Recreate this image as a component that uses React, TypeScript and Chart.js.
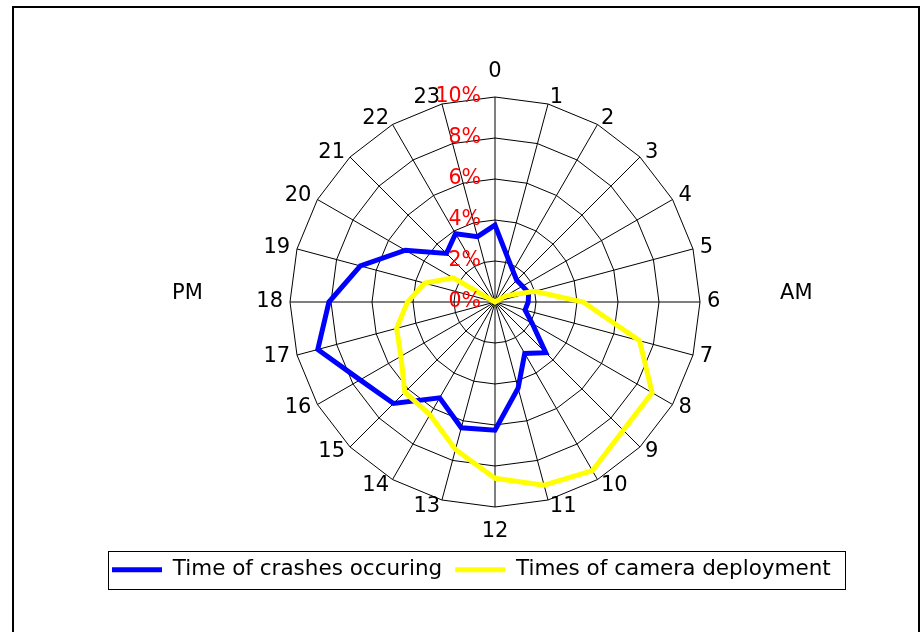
import React, { useEffect, useRef } from 'react';
import { Chart, registerables } from 'chart.js';

Chart.register(...registerables);

// ---- data (percent of daily total per hour) ----
const hours = ['0', '1', '2', '3', '4', '5', '6', '7', '8', '9', '10', '11', '12', '13', '14', '15', '16', '17', '18', '19', '20', '21', '22', '23'];
const crashes = [3.75, 2.3, 1.75, 1.5, 1.55, 1.7, 1.62, 1.52, 2.1, 3.5, 2.9, 4.35, 6.25, 6.35, 5.4, 7.0, 7.6, 8.95, 8.1, 6.8, 5.05, 3.35, 3.85, 3.3];
const camera = [0, 0, 0, 0, 0.6, 2.0, 4.3, 7.3, 8.85, 8.85, 9.5, 9.25, 8.6, 7.45, 6.35, 6.22, 5.3, 4.97, 4.27, 3.55, 2.35, 0, 0, 0];
const seriesNames = ['Time of crashes occuring', 'Times of camera deployment'];
const axisMin = 0;
const axisMax = 10;
const axisStep = 2;
const sideLabels = ['PM', 'AM'];

const FONT = "'DejaVu Sans', sans-serif";

export default function App() {
  const ref = useRef<HTMLCanvasElement>(null);

  useEffect(() => {
    const canvas = ref.current;
    if (!canvas) return;

    const framePlugin = {
      id: 'frame',
      beforeDraw(chart: any) {
        const ctx = chart.ctx;
        ctx.save();
        ctx.fillStyle = '#ffffff';
        ctx.fillRect(0, 0, chart.width, chart.height);
        ctx.strokeStyle = '#000000';
        ctx.lineWidth = 2;
        ctx.beginPath();
        ctx.moveTo(13, chart.height);
        ctx.lineTo(13, 7);
        ctx.lineTo(919, 7);
        ctx.lineTo(919, chart.height);
        ctx.stroke();
        ctx.restore();
      },
    };

    const textPlugin = {
      id: 'radarText',
      afterDatasetsDraw(chart: any) {
        const scale = chart.scales.r;
        const ctx = chart.ctx;
        const r = scale.drawingArea;
        const n = hours.length;
        ctx.save();
        ctx.textBaseline = 'middle';
        // hour labels
        ctx.font = `21px ${FONT}`;
        ctx.fillStyle = '#000000';
        hours.forEach((h, i) => {
          const p = scale.getPointPosition(i, r + 7);
          let y = p.y;
          if (i === 0) {
            ctx.textAlign = 'center';
            y -= 18;
          } else if (i * 2 === n) {
            ctx.textAlign = 'center';
            y += 18;
          } else {
            ctx.textAlign = i * 2 < n ? 'left' : 'right';
          }
          ctx.fillText(h, p.x, y);
        });
        // value labels
        ctx.font = `20.5px ${FONT}`;
        ctx.fillStyle = '#ff0000';
        ctx.textAlign = 'right';
        scale.ticks.forEach((t: any) => {
          const d = scale.getDistanceFromCenterForValue(t.value);
          ctx.fillText(String(t.label), scale.xCenter - 14, scale.yCenter - d);
        });
        // PM / AM
        ctx.font = `21px ${FONT}`;
        ctx.fillStyle = '#000000';
        ctx.textAlign = 'center';
        const pm = scale.getPointPosition(18, r * 1.5);
        ctx.fillText(sideLabels[0], pm.x, pm.y - 8);
        const am = scale.getPointPosition(6, r * 1.47);
        ctx.fillText(sideLabels[1], am.x, am.y - 8);
        ctx.restore();
      },
      afterDraw(chart: any) {
        const lg = chart.legend;
        const hb = lg && lg.legendHitBoxes;
        if (!hb || !hb.length) return;
        const first = hb[0];
        const last = hb[hb.length - 1];
        const left = Math.round(first.left - 4) + 0.5;
        const top = Math.round(first.top - 8) + 0.5;
        const right = Math.round(last.left + last.width + 14) + 0.5;
        const bottom = Math.round(first.top + first.height + 8) + 0.5;
        const ctx = chart.ctx;
        ctx.save();
        ctx.strokeStyle = '#000000';
        ctx.lineWidth = 1;
        ctx.strokeRect(left, top, right - left, bottom - top);
        ctx.restore();
      },
    };

    const chart = new Chart(canvas, {
      type: 'radar',
      data: {
        labels: hours,
        datasets: [
          {
            label: seriesNames[0],
            data: crashes,
            borderColor: '#0000ff',
            backgroundColor: '#0000ff',
            borderWidth: 5,
            fill: false,
            pointRadius: 0,
            pointHoverRadius: 0,
            order: 1,
          },
          {
            label: seriesNames[1],
            data: camera,
            borderColor: '#ffff00',
            backgroundColor: '#ffff00',
            borderWidth: 5,
            fill: false,
            pointRadius: 0,
            pointHoverRadius: 0,
            order: 0,
          },
        ],
      },
      options: {
        responsive: false,
        animation: false,
        devicePixelRatio: 1,
        layout: { padding: { top: 97, left: 99, right: 33, bottom: 41.5 } },
        scales: {
          r: {
            min: axisMin,
            max: axisMax,
            ticks: {
              stepSize: axisStep,
              display: false,
              callback: (v: any) => `${v}%`,
            },
            pointLabels: { display: false },
            grid: { color: '#000000', lineWidth: 1 },
            angleLines: { color: '#000000', lineWidth: 1 },
          },
        },
        plugins: {
          tooltip: { enabled: false },
          legend: {
            position: 'bottom',
            align: 'start',
            labels: {
              usePointStyle: true,
              pointStyle: 'line',
              pointStyleWidth: 50,
              padding: 13,
              color: '#000000',
              font: { family: FONT, size: 21.5 },
              sort: (a: any, b: any) => a.datasetIndex - b.datasetIndex,
            },
            title: {
              display: true,
              text: '',
              padding: { top: 28, bottom: 0 },
              font: { size: 10, lineHeight: 1 },
            },
          },
        },
      } as any,
      plugins: [framePlugin, textPlugin],
    });

    return () => {
      chart.destroy();
    };
  }, []);

  return (
    <div style={{ position: 'fixed', left: 0, top: 0, width: 924, height: 632, background: '#ffffff' }}>
      <canvas ref={ref} width={924} height={632} style={{ display: 'block' }} />
    </div>
  );
}
